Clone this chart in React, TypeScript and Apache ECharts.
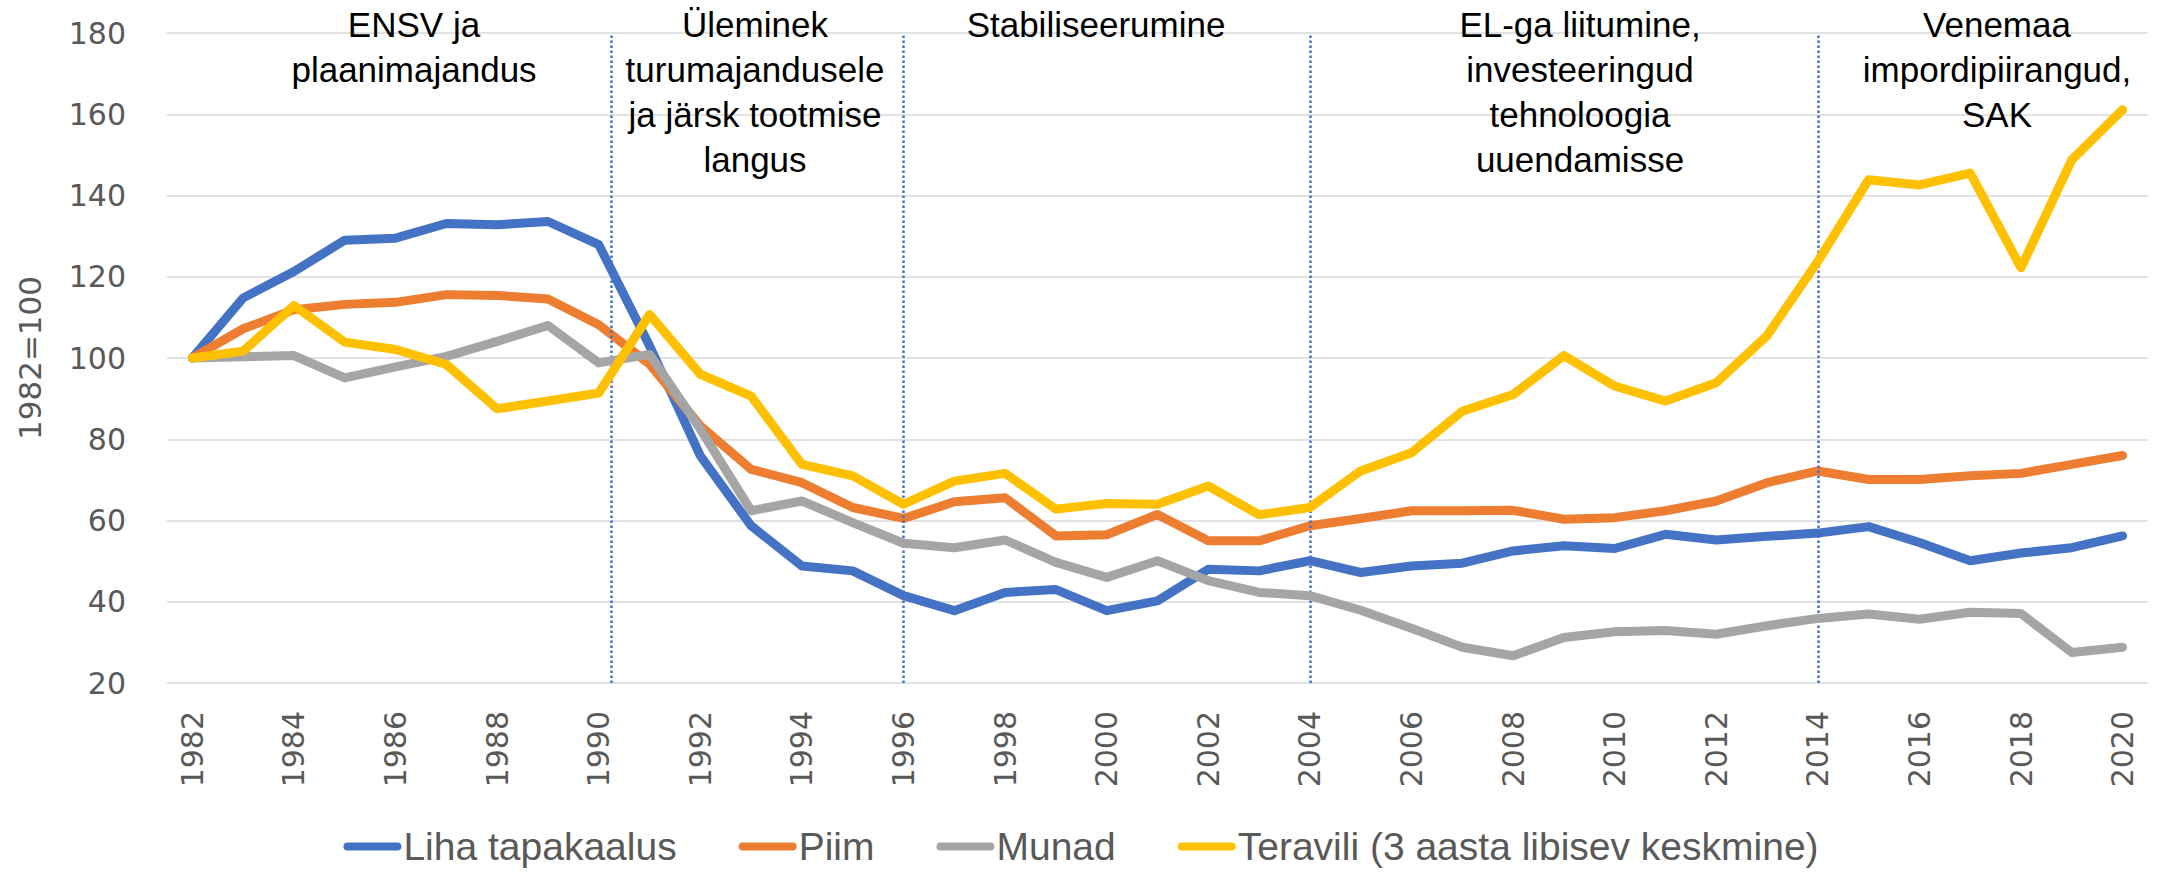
import React, { useEffect, useRef } from 'react';
import * as echarts from 'echarts';

const years = ['1982','1983','1984','1985','1986','1987','1988','1989','1990','1991','1992','1993','1994','1995','1996','1997','1998','1999','2000','2001','2002','2003','2004','2005','2006','2007','2008','2009','2010','2011','2012','2013','2014','2015','2016','2017','2018','2019','2020'];

const liha = [100, 114.8, 121.3, 129.0, 129.5, 133.1, 132.8, 133.6, 127.9, 103.0, 75.9, 58.7, 48.8, 47.6, 41.5, 37.8, 42.3, 43.0, 37.8, 40.2, 48.0, 47.6, 50.1, 47.2, 48.8, 49.5, 52.5, 53.8, 53.1, 56.6, 55.2, 56.1, 56.9, 58.5, 54.6, 50.1, 52.0, 53.3, 56.2];
const piim = [100, 107.2, 111.9, 113.2, 113.7, 115.6, 115.4, 114.5, 108.2, 98.5, 83.3, 72.6, 69.3, 63.2, 60.5, 64.6, 65.6, 56.2, 56.5, 61.5, 55.0, 55.0, 58.7, 60.5, 62.4, 62.4, 62.5, 60.3, 60.7, 62.4, 64.8, 69.3, 72.2, 70.1, 70.1, 71.0, 71.6, 73.8, 76.0];
const munad = [100, 100.3, 100.6, 95.1, 97.8, 100.4, 104.1, 108.0, 98.8, 100.9, 82.5, 62.4, 64.8, 59.5, 54.4, 53.3, 55.2, 49.7, 46.0, 50.1, 45.2, 42.3, 41.5, 37.9, 33.5, 28.8, 26.7, 31.2, 32.6, 32.9, 32.0, 34.1, 35.9, 37.0, 35.7, 37.4, 37.1, 27.5, 28.8];
const teravili = [100, 101.7, 112.9, 103.9, 102.1, 98.4, 87.5, 89.4, 91.4, 110.7, 96.0, 90.6, 73.8, 71.0, 64.0, 69.7, 71.6, 62.8, 64.2, 64.0, 68.5, 61.4, 63.2, 72.2, 76.7, 86.9, 91.0, 100.6, 93.1, 89.4, 93.9, 105.5, 123.8, 143.9, 142.6, 145.5, 122.2, 148.8, 161.1];

const seriesNames = ['Liha tapakaalus', 'Piim', 'Munad', 'Teravili (3 aasta libisev keskmine)'];
const seriesColors = ['#4472C4', '#ED7D31', '#A5A5A5', '#FFC000'];

// period boundaries (year positions)
const dividerYears = [1990.25, 1996, 2004, 2014];

const periodLabels = [
  { text: 'ENSV ja\nplaanimajandus', x: 414 },
  { text: 'Üleminek\nturumajandusele\nja järsk tootmise\nlangus', x: 755 },
  { text: 'Stabiliseerumine', x: 1096 },
  { text: 'EL-ga liitumine,\ninvesteeringud\ntehnoloogia\nuuendamisse', x: 1580 },
  { text: 'Venemaa\nimpordipiirangud,\nSAK', x: 1997 },
];

const axisFont = "'DejaVu Sans', sans-serif";
const textFont = "'Liberation Sans', Arial, sans-serif";

export default function App() {
  const ref = useRef<HTMLDivElement>(null);
  useEffect(() => {
    document.body.style.margin = '0';
    if (!ref.current) return;
    const chart = echarts.init(ref.current, null, { renderer: 'svg' });
    const dataSets = [liha, piim, munad, teravili];
    const lineSeries = dataSets.map((d, i) => ({
      name: seriesNames[i],
      type: 'line',
      data: d,
      symbol: 'none',
      smooth: false,
      color: seriesColors[i],
      lineStyle: { width: 9, color: seriesColors[i], cap: 'round', join: 'round' },
      z: 3 + i,
    }));
    const firstYear = Number(years[0]);
    chart.setOption({
      animation: false,
      backgroundColor: '#ffffff',
      grid: { left: 167, right: 14, top: 33, bottom: 189, containLabel: false },
      legend: {
        data: seriesNames,
        left: 'center',
        top: 822,
        itemWidth: 58,
        itemHeight: 8,
        itemGap: 62,
        icon: 'path://M4,0 L54,0 A4,4 0 0 1 54,8 L4,8 A4,4 0 0 1 4,0 Z',
        textStyle: { fontSize: 39, fontFamily: textFont, color: '#595959', padding: [0, 0, 0, -3] },
      },
      xAxis: [
        {
          type: 'category',
          data: years,
          boundaryGap: true,
          axisLine: { show: false },
          axisTick: { show: false },
          splitLine: { show: false },
          axisLabel: {
            interval: 1,
            rotate: 90,
            margin: 28,
            fontSize: 30,
            fontFamily: axisFont,
            color: '#595959',
          },
        },
        {
          type: 'value',
          min: -0.5,
          max: years.length - 0.5,
          show: false,
        },
      ],
      yAxis: {
        type: 'value',
        min: 20,
        max: 180,
        interval: 20,
        name: '1982=100',
        nameLocation: 'middle',
        nameGap: 122,
        nameRotate: 90,
        nameTextStyle: { fontSize: 31, fontFamily: axisFont, color: '#595959' },
        axisLine: { show: false },
        axisTick: { show: false },
        axisLabel: { fontSize: 30, fontFamily: axisFont, color: '#595959', margin: 41 },
        splitLine: { lineStyle: { color: '#D9D9D9', width: 1.5 } },
      },
      series: [
        ...lineSeries,
        {
          name: 'dividers',
          type: 'line',
          xAxisIndex: 1,
          data: [],
          silent: true,
          markLine: {
            silent: true,
            symbol: ['none', 'none'],
            label: { show: false },
            lineStyle: { color: '#4472C4', width: 2.5, type: [2.5, 2.5] },
            data: dividerYears.map((y) => ({ xAxis: y - firstYear })),
          },
        },
      ],
      graphic: periodLabels.map((p) => ({
        type: 'text',
        x: p.x,
        y: 2,
        z: 100,
        style: {
          text: p.text,
          align: 'center',
          verticalAlign: 'top',
          fontSize: 35,
          lineHeight: 45,
          fontFamily: textFont,
          fill: '#000000',
        },
      })),
    });
    return () => chart.dispose();
  }, []);
  return <div ref={ref} style={{ width: 2162, height: 872 }} />;
}
